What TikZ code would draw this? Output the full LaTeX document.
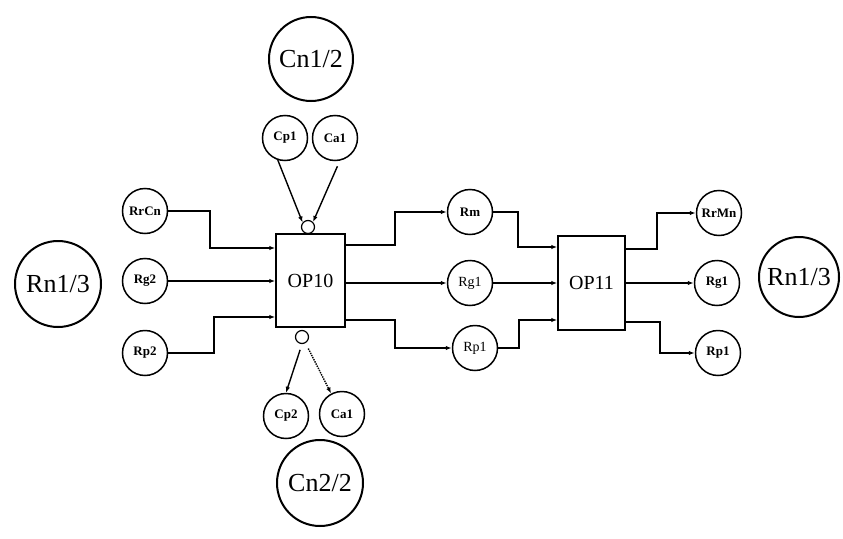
\documentclass[tikz,border=0pt]{standalone}
\usepackage{fontspec}
\setmainfont{Liberation Serif}
\usetikzlibrary{arrows.meta,calc}
\begin{document}
\begin{tikzpicture}[x=1pt,y=-1pt,
  big/.style={circle,draw,line width=2pt,minimum size=86pt,inner sep=0pt,font=\fontsize{26}{26}\selectfont},
  small/.style={circle,draw,line width=1.5pt,minimum size=45pt,inner sep=0pt,font=\bfseries\fontsize{13}{13}\selectfont},
  tiny/.style={circle,draw,line width=1.2pt,minimum size=13pt,inner sep=0pt},
  opbox/.style={rectangle,draw,line width=1.5pt,inner sep=0pt,font=\fontsize{20}{20}\selectfont},
  arr/.style={line width=1.4pt,-{Latex[length=6pt,width=4.5pt]}},
  ln/.style={line width=1.4pt}]
\useasboundingbox (0,0) rectangle (843,538);
% big circles
\node[big] (rnl) at (58,284) {Rn1/3};
\node[big,minimum size=80pt] (rnr) at (799,277) {Rn1/3};
\node[big,minimum size=84pt] (cn1) at (311,59) {Cn1/2};
\node[big,minimum size=86pt] (cn2) at (320,483) {Cn2/2};
% boxes
\node[opbox,minimum width=69pt,minimum height=93pt] (op10) at (310.5,280.5) {OP10};
\node[opbox,minimum width=67pt,minimum height=94pt] (op11) at (591.5,283) {OP11};
% tiny circles
\node[tiny] (tc) at (308,227) {};
\node[tiny] (bc) at (302,337) {};
% top small circles
\node[small] (cp1) at (285,138) {Cp1};
\node[small] (ca1) at (335,138) {Ca1};
% bottom small circles
\node[small] (cp2) at (286,416) {Cp2};
\node[small] (ca1b) at (342,414) {Ca1};
% left small circles
\node[small] (rrcn) at (145,211) {RrCn};
\node[small] (rg2) at (145,281) {Rg2};
\node[small] (rp2) at (145,353) {Rp2};
% middle
\node[small] (rm) at (470,212) {Rm};
\node[small,font=\fontsize{14}{14}\selectfont] (rg1) at (470,283) {Rg1};
\node[small,font=\fontsize{14}{14}\selectfont] (rp1) at (475,348) {Rp1};
% right
\node[small] (rrmn) at (719,213) {RrMn};
\node[small] (rg1b) at (717,283) {Rg1};
\node[small] (rp1b) at (718,353) {Rp1};
% inputs to OP10
\draw[arr] (rrcn.east) -| (210,248) -- (op10.west |- 0,248);
\draw[arr] (rg2.east) -- (op10.west |- rg2.east);
\draw[arr] (rp2.east) -| (214,317) -- (op10.west |- 0,317);
% OP10 outputs
\draw[arr] (op10.east |- 0,245) -| (395,212) -- (rm.west);
\draw[arr] (op10.east |- rg1.west) -- (rg1.west);
\draw[arr] (op10.east |- 0,320) -| (395,348) -- (rp1.west);
% inputs to OP11
\draw[arr] (rm.east) -| (518,247) -- (op11.west |- 0,247);
\draw[arr] (rg1.east) -- (op11.west |- rg1.east);
\draw[arr] (rp1.east) -| (519,320) -- (op11.west |- 0,320);
% OP11 outputs
\draw[arr] (op11.east |- 0,249) -| (657,213) -- (rrmn.west);
\draw[arr] (op11.east |- rg1b.west) -- (rg1b.west);
\draw[arr] (op11.east |- 0,322) -| (660,353) -- (rp1b.west);
% top arrows
\draw[arr] (cp1.-108) -- (tc.140);
\draw[arr,shorten <=6pt] (ca1.-78) -- (tc.45);
% bottom arrows
\draw[arr,shorten <=6pt] (bc.-90) -- (cp2.north);
\draw[arr,densely dotted,shorten <=6pt] (bc.-60) -- (ca1b.118);
\end{tikzpicture}
\end{document}
